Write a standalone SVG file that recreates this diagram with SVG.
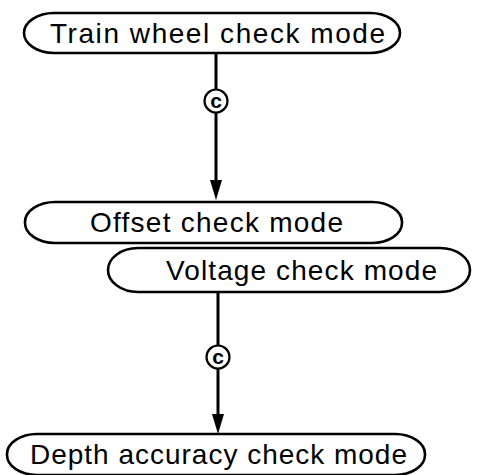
<svg xmlns="http://www.w3.org/2000/svg" width="480" height="475" viewBox="0 0 480 475">
<style>
.pill{fill:#fff;stroke:#000;stroke-width:2.6}
.lbl{font-family:"Liberation Sans",Arial,sans-serif;font-size:28px;fill:#000}
.conn{stroke:#000;stroke-width:3;fill:none}
.head{fill:#000}
.cc{fill:#fff;stroke:#000;stroke-width:2.2}
.ct{font-family:"Liberation Sans",Arial,sans-serif;font-size:21px;font-weight:bold;fill:#000;text-anchor:middle}
</style>
<rect width="480" height="475" fill="#fff"/>
<g id="connectors">
<line class="conn" x1="216" y1="53" x2="216" y2="184"/>
<polygon class="head" points="210,180 222,180 216,200"/>
<line class="conn" x1="218" y1="293" x2="218" y2="418"/>
<polygon class="head" points="212,414 224,414 218,434"/>
<g id="c1"><circle class="cc" cx="216" cy="101" r="11.5"/><text class="ct" x="216" y="108">c</text></g>
<g id="c2"><circle class="cc" cx="218" cy="357" r="11.5"/><text class="ct" x="218" y="364">c</text></g>
</g>
<g id="n1">
<rect class="pill" x="24" y="13" width="376" height="40" rx="30" ry="20"/>
<text class="lbl" x="50" y="43" textLength="335" lengthAdjust="spacing">Train wheel check mode</text>
</g>
<g id="n2">
<rect class="pill" x="25" y="202" width="377" height="41" rx="30" ry="20"/>
<text class="lbl" x="90" y="232" textLength="253" lengthAdjust="spacing">Offset check mode</text>
</g>
<g id="n3">
<rect class="pill" x="108" y="248" width="362" height="44" rx="30" ry="22"/>
<text class="lbl" x="166" y="280" textLength="271" lengthAdjust="spacing">Voltage check mode</text>
</g>
<g id="n4">
<rect class="pill" x="7" y="434" width="418" height="41" rx="30" ry="20"/>
<text class="lbl" x="30" y="464" textLength="377" lengthAdjust="spacing">Depth accuracy check mode</text>
</g>
</svg>
